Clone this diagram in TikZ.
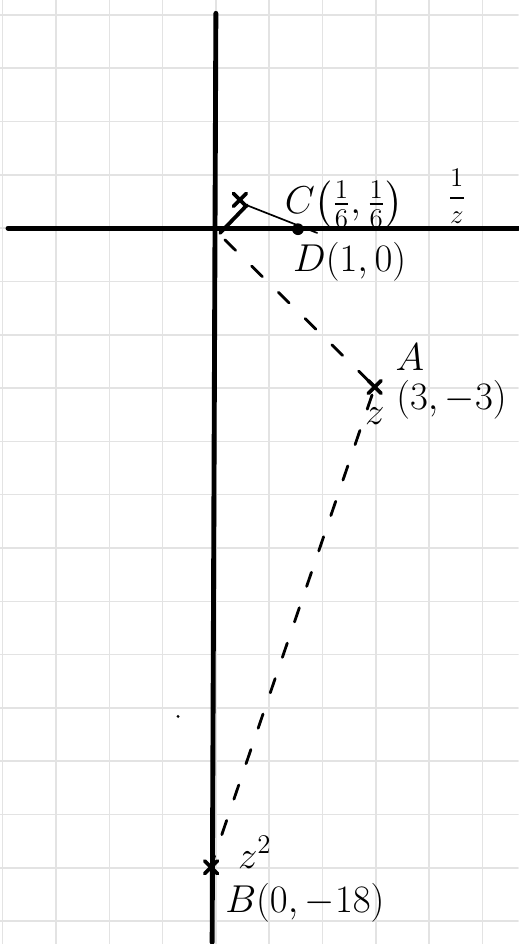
\documentclass[tikz,border=0pt]{standalone}
\usepackage{amsmath}
\usetikzlibrary{calc}

\begin{document}
\begin{tikzpicture}[line cap=round, line join=round,
  gridline/.style={gray!22, line width=0.8pt},
  axis/.style={black, line width=2.6pt},
  dashseg/.style={line width=1.5pt, dash pattern=on 8pt off 12pt},
  cross/.style={line width=2pt},
  lbl/.style={inner sep=1pt, font=\fontsize{20}{24}\selectfont}]

  \useasboundingbox (-4.05,-13.43) rectangle (5.67,4.28);

  % Grid paper
  \draw[gridline] (-4.05,-13.43) grid (5.67,4.28);

  % Axes
  \draw[axis] (-3.9,0) -- (5.67,0);
  \draw[axis] (0,4.03) -- (-0.07,-13.4);

  % Points
  \coordinate (O) at (0.08,-0.09);
  \coordinate (C) at (0.45,0.53);
  \coordinate (Cend) at (0.58,0.43);
  \coordinate (D) at (1.54,-0.02);
  \coordinate (Dend) at (1.9,-0.09);
  \coordinate (A) at (2.98,-2.98);
  \coordinate (B) at (-0.09,-11.99);

  % Crosses
  \foreach \p in {C,A,B} {
    \draw[cross] ($(\p)+(-0.12,-0.12)$) -- ($(\p)+(0.12,0.12)$);
    \draw[cross] ($(\p)+(-0.12,0.12)$) -- ($(\p)+(0.12,-0.12)$);
  }

  % 1/z and 1
  \draw[line width=2pt] (O) -- (Cend);
  \draw[line width=0.9pt] (Cend) -- (Dend);
  \fill (D) circle (0.11);

  % z and z^2
  \draw[dashseg] (0.17,-0.22) -- (2.9,-2.9);
  \draw[dashseg] (2.93,-3.13) -- (-0.05,-11.85);

  % Stray mark
  \fill (-0.71,-9.16) circle (0.03);

  % Labels
  \node[lbl, font=\fontsize{22}{26}\selectfont] (Clbl) at (2.4,0.45) {$C\big(\tfrac{1}{6},\tfrac{1}{6}\big)$};
  \node[lbl, font=\fontsize{14}{17}\selectfont] (Clbl2) at (4.52,0.6) {$\dfrac{1}{z}$};
  \node[lbl] (Dlbl) at (2.51,-0.64) {$D(1,0)$};
  \node[lbl] (Albl) at (3.64,-2.42) {$A$};
  \node[lbl] (Aco) at (4.42,-3.22) {$(3,-3)$};
  \node[lbl] (Az) at (2.98,-3.52) {$z$};
  \node[lbl] (Bz) at (0.73,-11.71) {$z^2$};
  \node[lbl] (Blbl) at (1.67,-12.65) {$B(0,-18)$};

\end{tikzpicture}
\end{document}
